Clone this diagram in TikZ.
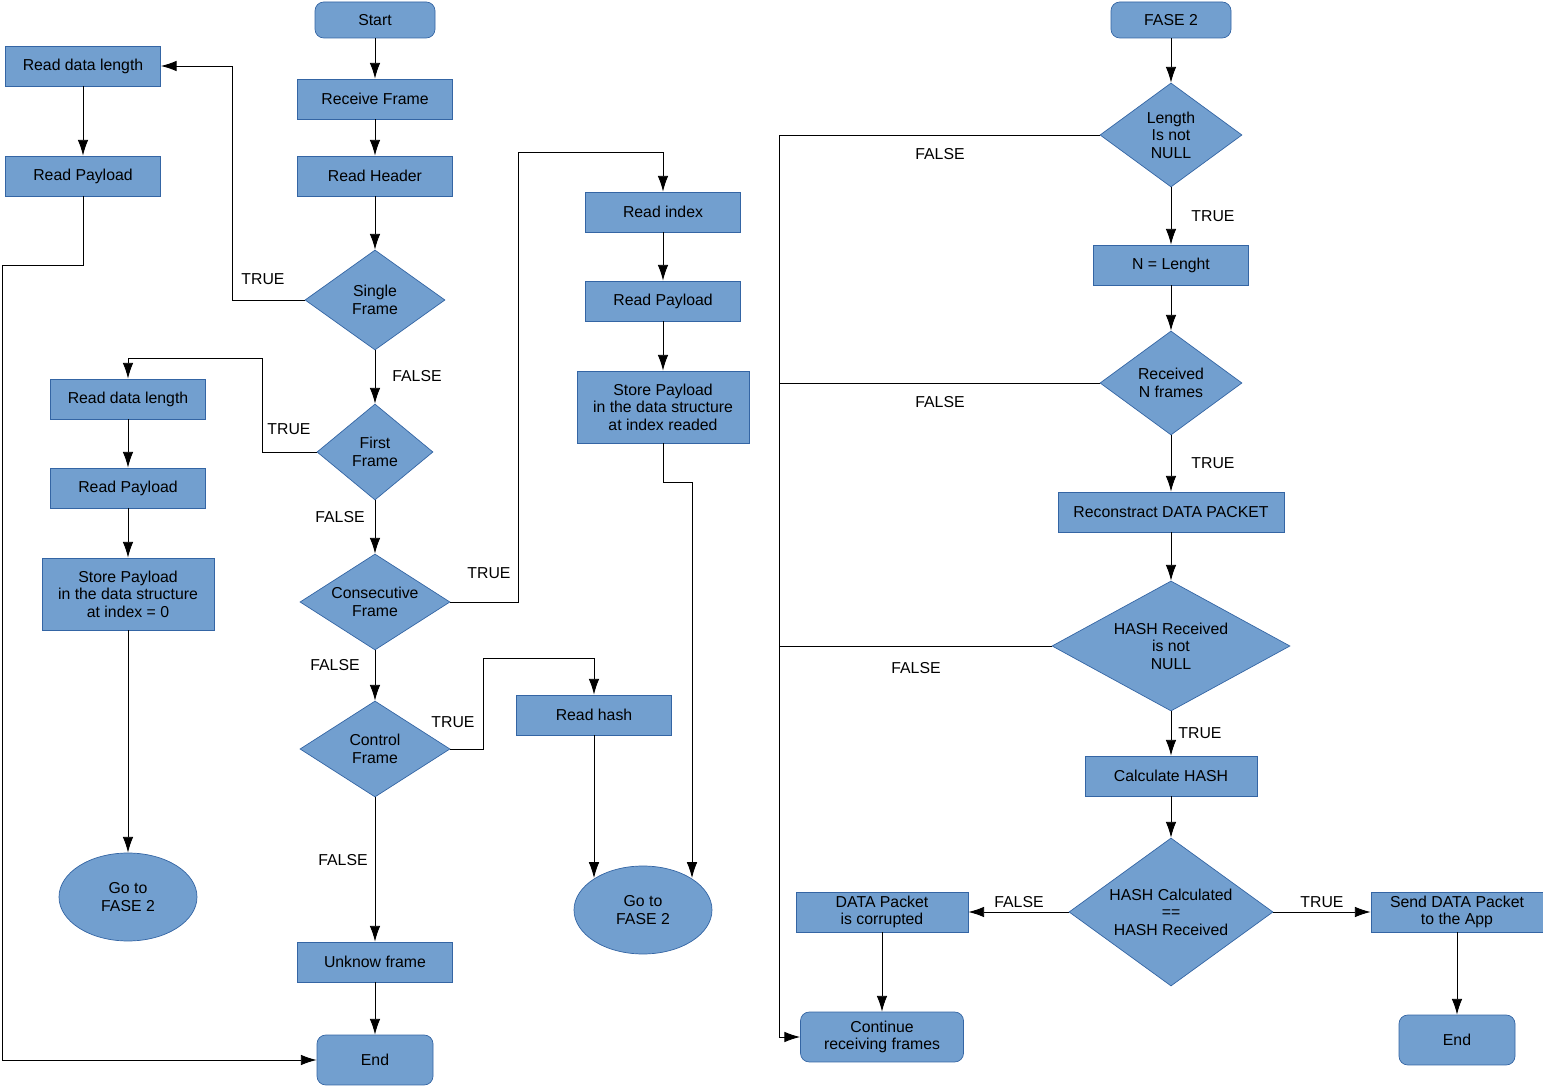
\documentclass[tikz,border=0pt]{standalone}
\usepackage{fontspec}
\setmainfont{Liberation Sans}
\usetikzlibrary{shapes.geometric,arrows.meta}
\definecolor{boxfill}{HTML}{729FCF}
\definecolor{boxline}{HTML}{3465A4}
\begin{document}
\begin{tikzpicture}[x=0.02cm,y=-0.02cm,
    every node/.style={font=\fontsize{9}{10}\selectfont, align=center},
    box/.style={draw=boxline, fill=boxfill, minimum width=#1*0.02cm, minimum height=0.8cm, inner sep=1pt},
    box/.default=155,
    term/.style={draw=boxline, fill=boxfill, rounded corners=5pt, minimum width=#1*0.02cm, minimum height=0.72cm},
    cond/.style 2 args={draw=boxline, fill=boxfill, diamond, /utils/exec={\pgfmathsetmacro\condaspect{#1/#2}}, aspect=\condaspect, minimum width=#1*0.02cm, minimum height=#2*0.02cm, inner sep=0pt},
    goto/.style={draw=boxline, fill=boxfill, ellipse, minimum width=2.76cm, minimum height=1.76cm},
    lbl/.style={fill=none},
    arr/.style={-{Latex[length=9pt,width=6pt]}, line width=0.5pt}]
    \useasboundingbox (0,0) rectangle (1543,1087);
    % frame reception
    \node[term=120] (start) at (375,20) {Start};
    \node[box] (recv) at (375,99) {Receive Frame};
    \node[box] (head) at (375,176) {Read Header};
    \node[cond={140}{100}] (single) at (375,300) {Single\\Frame};
    \node[cond={116}{96}] (first) at (375,452) {First\\Frame};
    \node[cond={150}{96}] (consec) at (375,602) {Consecutive\\Frame};
    \node[cond={150}{96}] (ctrl) at (375,749) {Control\\Frame};
    \node[box] (unknow) at (375,962) {Unknow frame};
    \node[term=116, minimum height=1cm] (end) at (375,1060) {End};
    % single frame
    \node[box] (sflen) at (83,66) {Read data length};
    \node[box] (sfpay) at (83,176) {Read Payload};
    % first frame
    \node[box] (fflen) at (128,399) {Read data length};
    \node[box] (ffpay) at (128,488) {Read Payload};
    \node[box=172, minimum height=1.44cm] (ffstore) at (128,594) {Store Payload\\in the data structure\\at index = 0};
    \node[goto] (ffgoto) at (128,897) {Go to\\FASE 2};
    % consecutive frame
    \node[box] (cfidx) at (663,212) {Read index};
    \node[box] (cfpay) at (663,301) {Read Payload};
    \node[box=172, minimum height=1.44cm] (cfstore) at (663,407) {Store Payload\\in the data structure\\at index readed};
    \node[goto] (cfgoto) at (643,910) {Go to\\FASE 2};
    % control frame
    \node[box] (hash) at (594,715) {Read hash};
    % fase 2
    \node[term=120] (fase) at (1171,20) {FASE 2};
    \node[cond={142}{104}] (len) at (1171,135) {Length\\Is not\\NULL};
    \node[box] (nlen) at (1171,265) {N = Lenght};
    \node[cond={142}{104}] (recn) at (1171,383) {Received\\N frames};
    \node[box=226] (recon) at (1171,512) {Reconstract DATA PACKET};
    \node[cond={238}{130}] (hrec) at (1171,646) {HASH Received\\is not\\NULL};
    \node[box=172] (calc) at (1171,776) {Calculate HASH};
    \node[cond={204}{148}] (cmp) at (1171,912) {HASH Calculated\\==\\HASH Received};
    \node[box=172] (corr) at (882,912) {DATA Packet\\is corrupted};
    \node[box=172] (send) at (1457,912) {Send DATA Packet\\to the App};
    \node[term=163, minimum height=1cm] (cont) at (882,1037) {Continue\\receiving frames};
    \node[term=116, minimum height=1cm] (end2) at (1457,1040) {End};
    \coordinate (fbus) at (779,135);
    % main chain
    \draw[arr] (start) -- (recv);
    \draw[arr] (recv) -- (head);
    \draw[arr] (head) -- (single);
    \draw[arr] (single) -- (first);
    \draw[arr] (first) -- (consec);
    \draw[arr] (consec) -- (ctrl);
    \draw[arr] (ctrl) -- (unknow);
    \draw[arr] (unknow) -- (end);
    \node[lbl] at (417,376) {FALSE};
    \node[lbl] at (340,517) {FALSE};
    \node[lbl] at (335,665) {FALSE};
    \node[lbl] at (343,860) {FALSE};
    % branches
    \draw[arr] (single.west) -- (232,300) -- (232,66) -- (sflen.east);
    \node[lbl] at (263,279) {TRUE};
    \draw[arr] (sflen) -- (sfpay);
    \draw[arr] (sfpay.south) -- (83,265) -- (2,265) -- (2,1060) -- (end.west);
    \draw[arr] (first.west) -- (262,452) -- (262,358) -- (128,358) -- (fflen.north);
    \node[lbl] at (289,429) {TRUE};
    \draw[arr] (fflen) -- (ffpay);
    \draw[arr] (ffpay) -- (ffstore);
    \draw[arr] (ffstore) -- (ffgoto);
    \draw[arr] (consec.east) -- (518,602) -- (518,152) -- (663,152) -- (cfidx.north);
    \node[lbl] at (489,573) {TRUE};
    \draw[arr] (cfidx) -- (cfpay);
    \draw[arr] (cfpay) -- (cfstore);
    \draw[arr] (cfstore.south) -- (663,482) -- (692,482) -- (692,878);
    \draw[arr] (ctrl.east) -- (483,749) -- (483,658) -- (594,658) -- (hash.north);
    \node[lbl] at (453,722) {TRUE};
    \draw[arr] (hash.south) -- (594,878);
    % fase 2 chain
    \draw[arr] (fase) -- (len);
    \draw[arr] (len) -- (nlen);
    \node[lbl] at (1213,216) {TRUE};
    \draw[arr] (nlen) -- (recn);
    \draw[arr] (recn) -- (recon);
    \node[lbl] at (1213,463) {TRUE};
    \draw[arr] (recon) -- (hrec);
    \draw[arr] (hrec) -- (calc);
    \node[lbl] at (1200,733) {TRUE};
    \draw[arr] (calc) -- (cmp);
    \draw[arr] (cmp) -- (corr);
    \node[lbl] at (1019,902) {FALSE};
    \draw[arr] (cmp) -- (send);
    \node[lbl] at (1322,902) {TRUE};
    \draw[arr] (corr) -- (cont);
    \draw[arr] (send.south) -- (1457,972) -- (end2.north);
    \draw[arr] (len.west) -- (fbus) -- (779,1037) -- (cont.west);
    \draw (recn.west) -- (779,383);
    \draw (hrec.west) -- (779,646);
    \node[lbl] at (940,154) {FALSE};
    \node[lbl] at (940,402) {FALSE};
    \node[lbl] at (916,668) {FALSE};
\end{tikzpicture}
\end{document}
